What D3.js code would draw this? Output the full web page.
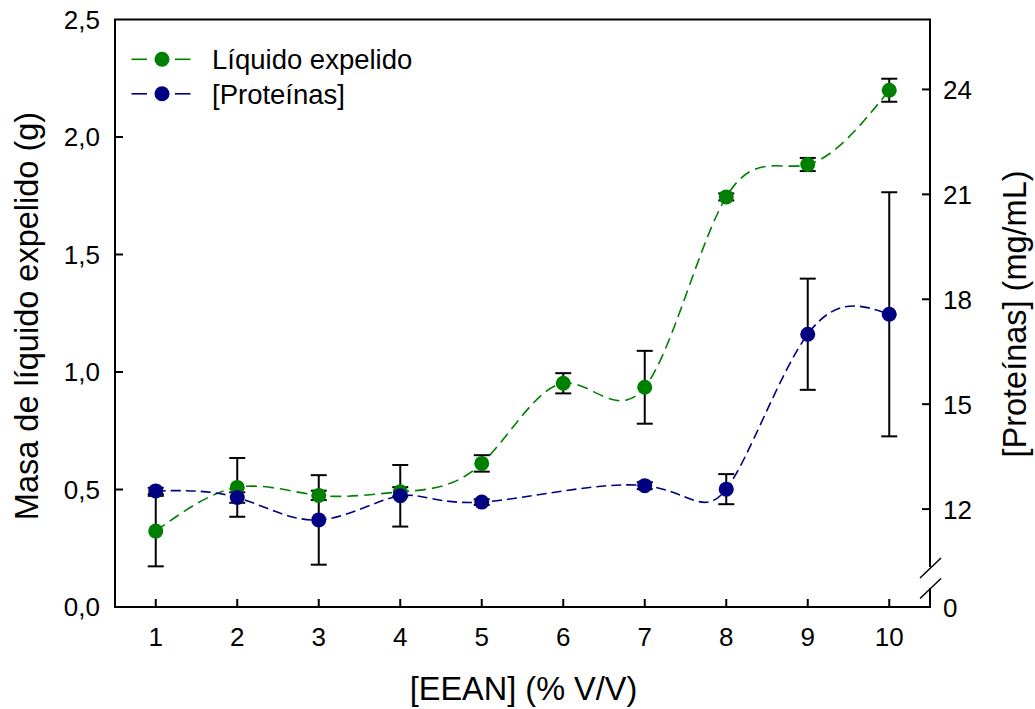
<!DOCTYPE html>
<html>
<head>
<meta charset="utf-8">
<script src="https://cdn.jsdelivr.net/npm/d3@7"></script>
<style>
  html, body { margin: 0; padding: 0; background: #fff; }
  svg { display: block; font-family: "Liberation Sans", Arial, sans-serif; }
</style>
</head>
<body>
<svg id="chart" width="1035" height="709"></svg>
<script>
// EEAN concentration (% V/V)
const eean = [1, 2, 3, 4, 5, 6, 7, 8, 9, 10];
// Mass of expelled liquid (g) and its error
const liquido    = [0.323, 0.509, 0.475, 0.490, 0.611, 0.952, 0.935, 1.745, 1.883, 2.199];
const liquidoErr = [0.150, 0.125, 0.020, 0.020, 0.035, 0.043, 0.155, 0.015, 0.028, 0.049];
// Protein concentration (mg/mL) and its error; no measurement at 6 %
const proteinas    = [12.52, 12.33, 11.69, 12.38, 12.20, null, 12.67, 12.57, 17.00, 17.57];
const proteinasErr = [0.09, 0.15, 1.28, 0.88, 0.08, null, 0.10, 0.43, 1.59, 3.49];

const leftTicks  = [0, 0.5, 1.0, 1.5, 2.0, 2.5];
const rightTicks = [12, 15, 18, 21, 24];
const rightBreakLabel = "0";

const seriesNames = ["Líquido expelido", "[Proteínas]"];
const green = "#008000", navy = "#000080";

const svg = d3.select("#chart");
const L = 115, R = 930, T = 19.5, B = 607;

const x  = d3.scaleLinear().domain([0.5, 10.5]).range([L, R]);
const yL = d3.scaleLinear().domain([0, 2.5]).range([B, T]);
const yR = d3.scaleLinear().domain([9.2, 26]).range([B, T]);

const fmt = d => d3.format(".1f")(d).replace(".", ",");

// frame: left, bottom, top and right (right axis has a break near the bottom)
const frame = svg.append("g").attr("stroke", "#000").attr("stroke-width", 2).attr("fill", "none");
frame.append("line").attr("x1", L).attr("x2", L).attr("y1", T).attr("y2", B + 1);
frame.append("line").attr("x1", L - 1).attr("x2", R + 1).attr("y1", B).attr("y2", B);
frame.append("line").attr("x1", L - 1).attr("x2", R + 1).attr("y1", T).attr("y2", T);
frame.append("line").attr("x1", R).attr("x2", R).attr("y1", T).attr("y2", 567);
frame.append("line").attr("x1", R).attr("x2", R).attr("y1", 588).attr("y2", B + 1);
// break marks
frame.append("line").attr("x1", 920).attr("y1", 578).attr("x2", 941).attr("y2", 558).attr("stroke-width", 1.5);
frame.append("line").attr("x1", 920).attr("y1", 598.5).attr("x2", 941).attr("y2", 578.5).attr("stroke-width", 1.5);

// ticks (pointing inward)
const tk = svg.append("g").attr("stroke", "#000").attr("stroke-width", 2);
tk.selectAll(".tl").data(leftTicks.slice(1, -1)).join("line")
  .attr("x1", L).attr("x2", L + 8).attr("y1", d => yL(d)).attr("y2", d => yL(d));
tk.selectAll(".tr").data(rightTicks).join("line")
  .attr("x1", R - 8).attr("x2", R).attr("y1", d => yR(d)).attr("y2", d => yR(d));
tk.selectAll(".tb").data(eean).join("line")
  .attr("x1", d => x(d)).attr("x2", d => x(d)).attr("y1", B).attr("y2", B - 8);

// tick labels
const lab = svg.append("g").attr("font-size", 26).attr("fill", "#000");
lab.selectAll(".ll").data(leftTicks).join("text")
  .attr("x", 100).attr("y", d => yL(d) + 9).attr("text-anchor", "end").text(fmt);
lab.selectAll(".rl").data(rightTicks).join("text")
  .attr("x", 943).attr("y", d => yR(d) + 9.5).text(d => d);
lab.append("text").attr("x", 943).attr("y", B + 9.5).text(rightBreakLabel);
lab.selectAll(".bl").data(eean).join("text")
  .attr("x", d => x(d)).attr("y", 646).attr("text-anchor", "middle").text(d => d);

// axis titles
svg.append("text").attr("font-size", 32.5).attr("text-anchor", "middle")
  .attr("transform", `translate(${(L + R) / 2 + 1},700)`).text("[EEAN] (% V/V)");
svg.append("text").attr("font-size", 32.5).attr("text-anchor", "middle")
  .attr("transform", `translate(38,316) rotate(-90)`).text("Masa de líquido expelido (g)");
svg.append("text").attr("font-size", 32.5).attr("text-anchor", "middle")
  .attr("transform", `translate(1026,314) rotate(-90)`).text("[Proteínas] (mg/mL)");

// data
const gData = eean.map((e, i) => ({ x: e, v: liquido[i], err: liquidoErr[i] }));
const bData = eean.map((e, i) => ({ x: e, v: proteinas[i], err: proteinasErr[i] })).filter(d => d.v != null);

const lineG = d3.line().x(d => x(d.x)).y(d => yL(d.v)).curve(d3.curveNatural);
const lineB = d3.line().x(d => x(d.x)).y(d => yR(d.v)).curve(d3.curveNatural);

svg.append("path").attr("d", lineG(gData)).attr("fill", "none")
  .attr("stroke", green).attr("stroke-width", 1.6).attr("stroke-dasharray", "11,6");
svg.append("path").attr("d", lineB(bData)).attr("fill", "none")
  .attr("stroke", navy).attr("stroke-width", 1.6).attr("stroke-dasharray", "10,5");

// error bars
function errorBars(data, y) {
  const g = svg.append("g").attr("stroke", "#000").attr("stroke-width", 2);
  data.forEach(d => {
    const y0 = y(d.v - d.err), y1 = y(d.v + d.err), cx = x(d.x);
    g.append("line").attr("x1", cx).attr("x2", cx).attr("y1", y0).attr("y2", y1);
    g.append("line").attr("x1", cx - 8).attr("x2", cx + 8).attr("y1", y0).attr("y2", y0);
    g.append("line").attr("x1", cx - 8).attr("x2", cx + 8).attr("y1", y1).attr("y2", y1);
  });
}
errorBars(gData, yL);
errorBars(bData, yR);

// markers
svg.append("g").selectAll("circle").data(gData).join("circle")
  .attr("cx", d => x(d.x)).attr("cy", d => yL(d.v)).attr("r", 7.5).attr("fill", green);
svg.append("g").selectAll("circle").data(bData).join("circle")
  .attr("cx", d => x(d.x)).attr("cy", d => yR(d.v)).attr("r", 7.5).attr("fill", navy);

// legend
const legend = svg.append("g");
[green, navy].forEach((c, i) => {
  const yy = 59.3 + i * 34.5;
  legend.append("line").attr("x1", 131.5).attr("x2", 147).attr("y1", yy).attr("y2", yy)
    .attr("stroke", c).attr("stroke-width", 1.6);
  legend.append("line").attr("x1", 175).attr("x2", 190.5).attr("y1", yy).attr("y2", yy)
    .attr("stroke", c).attr("stroke-width", 1.6);
  legend.append("circle").attr("cx", 162).attr("cy", yy).attr("r", 7.5).attr("fill", c);
  legend.append("text").attr("x", 212).attr("y", yy + 10).attr("font-size", 27.5).text(seriesNames[i]);
});
</script>
</body>
</html>
